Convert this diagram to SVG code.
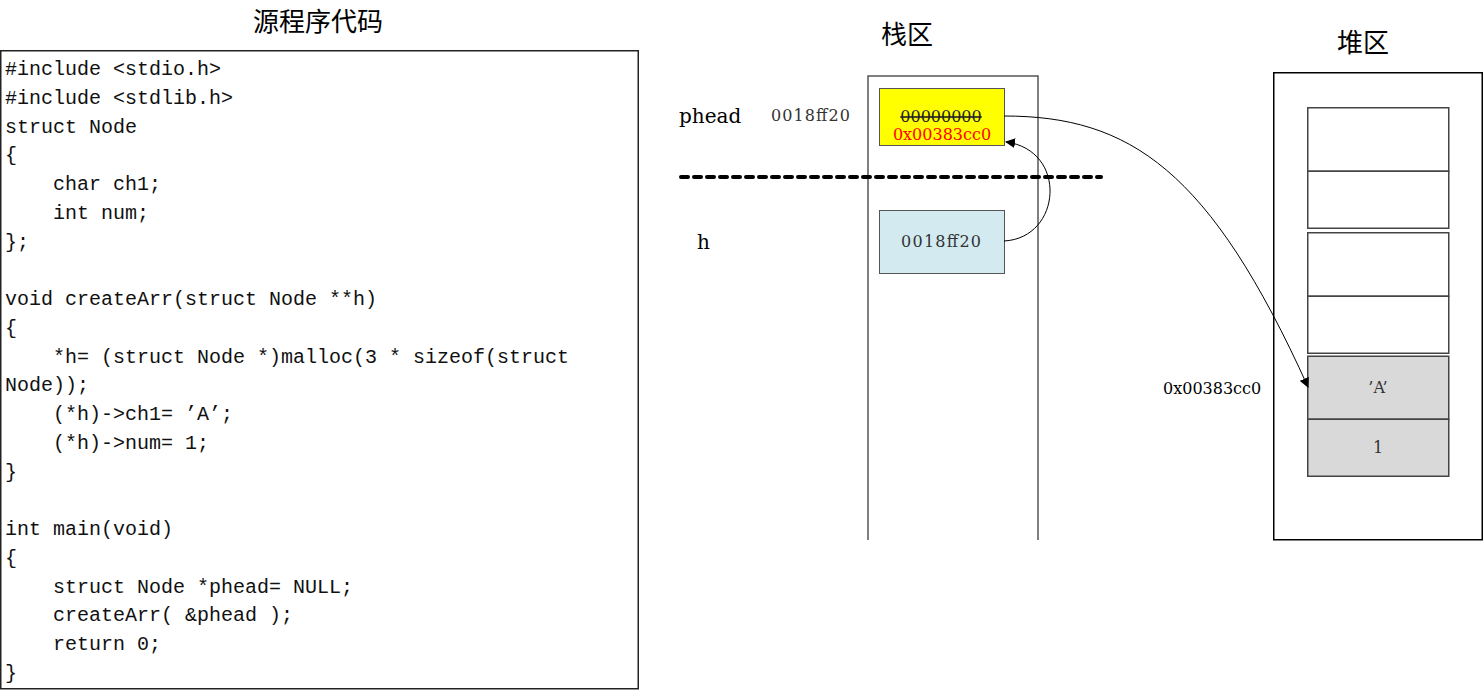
<svg xmlns="http://www.w3.org/2000/svg" width="1484" height="690" viewBox="0 0 1484 690">
<defs>
<marker id="arr" viewBox="0 0 10 10" refX="9" refY="5" markerWidth="10" markerHeight="10" markerUnits="userSpaceOnUse" orient="auto">
<path d="M0,0 L10,5 L0,10 z" fill="#000"/>
</marker>
<style>
.title{font-family:"Noto Sans CJK SC",sans-serif;font-size:26px;fill:#000;text-anchor:middle}
.code{font-family:"Liberation Mono",monospace;font-size:20px;fill:#111;white-space:pre}
.lbl{font-family:"DejaVu Serif",serif;font-size:16px;fill:#333}
.big{font-family:"DejaVu Serif",serif;font-size:20px;fill:#000}
.mid{text-anchor:middle}
.cell{stroke:#444;stroke-width:1.5}
.conn{fill:none;stroke:#000;stroke-width:1}
</style>
</defs>
<rect width="1484" height="690" fill="#fff"/>

<g id="code">
<text class="title" x="318" y="31">源程序代码</text>
<rect x="0.75" y="50.75" width="637.5" height="638" fill="#fff" stroke="#222" stroke-width="1.5"/>
<text class="code" xml:space="preserve">
<tspan x="5" y="75">#include &lt;stdio.h&gt;</tspan>
<tspan x="5" y="103.75">#include &lt;stdlib.h&gt;</tspan>
<tspan x="5" y="132.5">struct Node</tspan>
<tspan x="5" y="161.25">{</tspan>
<tspan x="5" y="190">    char ch1;</tspan>
<tspan x="5" y="218.75">    int num;</tspan>
<tspan x="5" y="247.5">};</tspan>
<tspan x="5" y="305">void createArr(struct Node **h)</tspan>
<tspan x="5" y="333.75">{</tspan>
<tspan x="5" y="362.5">    *h= (struct Node *)malloc(3 * sizeof(struct</tspan>
<tspan x="5" y="391.25">Node));</tspan>
<tspan x="5" y="420">    (*h)-&gt;ch1= ’A’;</tspan>
<tspan x="5" y="448.75">    (*h)-&gt;num= 1;</tspan>
<tspan x="5" y="477.5">}</tspan>
<tspan x="5" y="535">int main(void)</tspan>
<tspan x="5" y="563.75">{</tspan>
<tspan x="5" y="592.5">    struct Node *phead= NULL;</tspan>
<tspan x="5" y="621.25">    createArr( &amp;phead );</tspan>
<tspan x="5" y="650">    return 0;</tspan>
<tspan x="5" y="678.75">}</tspan>
</text>
</g>

<g id="stack">
<text class="title" x="907" y="44">栈区</text>
<path d="M868,540 V76 H1038 V540" fill="none" stroke="#555" stroke-width="1.5"/>
</g>

<g id="divider">
<line x1="681" y1="177" x2="1101" y2="177" stroke="#000" stroke-width="4" stroke-dasharray="7,6" stroke-linecap="round"/>
</g>

<g id="phead">
<text class="big" x="679" y="123">phead</text>
<text class="lbl" x="771" y="121" textLength="79" lengthAdjust="spacing">0018ff20</text>
<rect x="879.5" y="88.5" width="125" height="57" fill="#ffff00" stroke="#555" stroke-width="1"/>
<text class="lbl mid" x="941" y="122" style="fill:#222" text-decoration="line-through">00000000</text>
<text class="lbl mid" x="942" y="140" style="fill:#ff0000">0x00383cc0</text>
</g>

<g id="h">
<text class="big" x="697" y="249">h</text>
<rect x="879.5" y="210.5" width="125" height="63" fill="#d2eaf0" stroke="#555" stroke-width="1"/>
<text class="lbl" x="901" y="247" textLength="80" lengthAdjust="spacing">0018ff20</text>
</g>

<g id="heap">
<text class="title" x="1363" y="52">堆区</text>
<rect x="1273.75" y="72.75" width="208.5" height="467" fill="#fff" stroke="#000" stroke-width="1.5"/>
<rect class="cell" x="1307.75" y="107.75" width="141" height="63.5" fill="#fff"/>
<rect class="cell" x="1307.75" y="171.25" width="141" height="57" fill="#fff"/>
<rect class="cell" x="1307.75" y="232.75" width="141" height="63.5" fill="#fff"/>
<rect class="cell" x="1307.75" y="296.25" width="141" height="57" fill="#fff"/>
</g>

<g id="node">
<text class="lbl" x="1163" y="394" style="fill:#000">0x00383cc0</text>
<rect class="cell" x="1307.75" y="356.25" width="141" height="63" fill="#d9d9d9"/>
<rect class="cell" x="1307.75" y="419.25" width="141" height="57" fill="#d9d9d9"/>
<text class="lbl mid" x="1378" y="393">’A’</text>
<text class="lbl mid" x="1378" y="453">1</text>
</g>

<g id="connectors">
<path class="conn" d="M1004,116 C1130,116 1210,170 1308,387" marker-end="url(#arr)"/>
<path class="conn" d="M1004,241 C1062,238 1068,150 1006,142" marker-end="url(#arr)"/>
</g>
</svg>
